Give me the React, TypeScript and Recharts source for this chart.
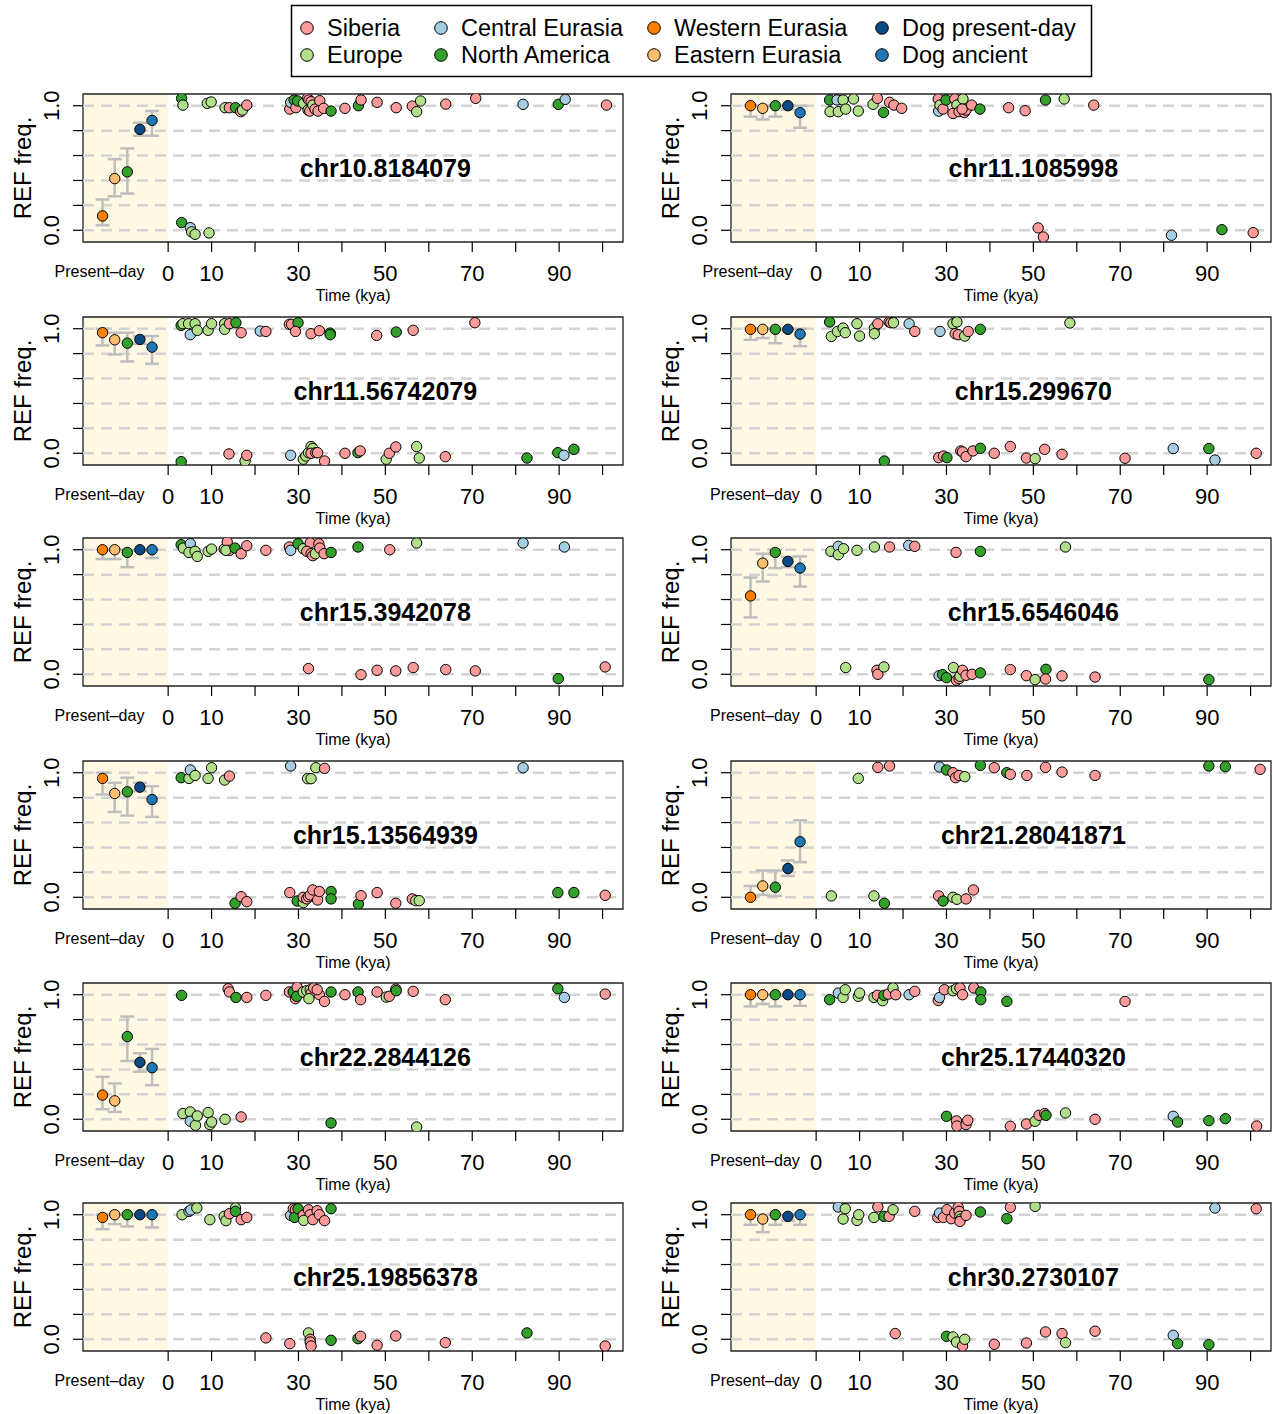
import React from "react";
import {
  ErrorBar,
  Label,
  ReferenceArea,
  ReferenceDot,
  ReferenceLine,
  Scatter,
  ScatterChart,
  XAxis,
  YAxis,
} from "recharts";

const FONT = '"Liberation Sans", Arial, Helvetica, sans-serif';

// colours (RColorBrewer "Paired"-like)
const COLOR: Record<string, string> = {
  s: "#FB9A99", // Siberia
  e: "#B2DF8A", // Europe
  c: "#A6CEE3", // Central Eurasia
  n: "#33A02C", // North America
};
const PD_COLORS = ["#FF7F00", "#FDBF6F", "#33A02C", "#0B4A85", "#1F78B4"];

// x positions of the five present-day groups (inside the shaded band)
const PD_X = [-15.1, -12.3, -9.4, -6.5, -3.7];

const X_MIN = -19.6;
const X_MAX = 104.7;
const Y_MIN = -0.094;
const Y_MAX = 1.094;
const X_TICKS = [0, 10, 20, 30, 40, 50, 60, 70, 80, 90, 100];
const X_LABELS = [0, 10, 30, 50, 70, 90];
const Y_TICKS = [0, 0.2, 0.4, 0.6, 0.8, 1];

type Pt = [string, number, number];
type Pd = [number, number, number]; // mean, low, high

// ── present-day means with intervals (W.Eurasia, E.Eurasia, N.America, Dog present-day, Dog ancient)
const pd_chr10_8184079: Pd[] = [[0.115, 0.04, 0.247], [0.415, 0.273, 0.571], [0.469, 0.295, 0.657], [0.81, 0.759, 0.863], [0.882, 0.759, 0.957]];
const pd_chr11_1085998: Pd[] = [[1.0, 0.912, 1.0], [0.979, 0.89, 1.0], [1.0, 0.912, 1.0], [1.0, 0.97, 1.0], [0.944, 0.823, 1.0]];
const pd_chr11_56742079: Pd[] = [[0.968, 0.866, 1.0], [0.911, 0.793, 0.968], [0.884, 0.737, 0.968], [0.914, 0.879, 0.941], [0.852, 0.718, 0.941]];
const pd_chr15_299670: Pd[] = [[0.995, 0.911, 1.0], [0.995, 0.925, 1.0], [0.995, 0.884, 1.0], [0.995, 0.99, 1.0], [0.957, 0.86, 1.0]];
const pd_chr15_3942078: Pd[] = [[1.0, 0.925, 1.0], [1.0, 0.925, 1.0], [0.978, 0.86, 1.0], [1.0, 0.99, 1.0], [1.0, 0.933, 1.0]];
const pd_chr15_6546046: Pd[] = [[0.629, 0.457, 0.777], [0.892, 0.745, 0.968], [0.978, 0.852, 1.0], [0.906, 0.86, 0.941], [0.852, 0.704, 0.946]];
const pd_chr15_13564939: Pd[] = [[0.954, 0.825, 1.0], [0.833, 0.685, 0.919], [0.847, 0.656, 0.96], [0.884, 0.852, 0.919], [0.785, 0.645, 0.892]];
const pd_chr21_28041871: Pd[] = [[0.0, 0.0, 0.091], [0.091, 0.019, 0.215], [0.081, 0.011, 0.215], [0.231, 0.172, 0.296], [0.446, 0.282, 0.618]];
const pd_chr22_2844126: Pd[] = [[0.194, 0.081, 0.341], [0.148, 0.059, 0.288], [0.664, 0.468, 0.825], [0.457, 0.382, 0.53], [0.414, 0.274, 0.565]];
const pd_chr25_17440320: Pd[] = [[1.0, 0.906, 1.0], [1.0, 0.925, 1.0], [1.0, 0.906, 1.0], [1.0, 0.99, 1.0], [1.0, 0.911, 1.0]];
const pd_chr25_19856378: Pd[] = [[0.978, 0.884, 1.0], [1.0, 0.925, 1.0], [1.0, 0.906, 1.0], [1.0, 0.99, 1.0], [1.0, 0.898, 1.0]];
const pd_chr30_2730107: Pd[] = [[1.0, 0.919, 1.0], [0.965, 0.86, 1.0], [1.0, 0.919, 1.0], [0.987, 0.95, 1.0], [1.0, 0.919, 1.0]];

// ── ancient samples: [group, age kya, REF freq (jittered)]
const anc_chr10_8184079: Pt[] = [
  ["n", 3.1, 1.059], ["e", 3.4, 1.005], ["e", 9.0, 1.019], ["e", 9.9, 1.03], ["e", 13.1, 0.984], ["s", 14.1, 0.984], ["n", 15.5, 0.984], ["s", 16.7, 0.952], ["e", 17.1, 0.965], ["s", 18.1, 1.005],
  ["s", 28.0, 0.973], ["c", 28.2, 1.027], ["n", 29.0, 1.046], ["s", 29.4, 0.984], ["n", 29.8, 1.038], ["e", 31.2, 1.019], ["s", 32.1, 1.059], ["s", 32.4, 1.046], ["s", 32.9, 1.032], ["e", 32.2, 0.965], ["s", 32.6, 0.957], ["e", 33.3, 1.005], ["s", 33.8, 0.973], ["s", 34.5, 0.957], ["s", 34.9, 1.04], ["s", 35.8, 0.979], ["n", 37.5, 0.957],
  ["s", 40.7, 0.979], ["n", 43.8, 1.0], ["s", 44.4, 1.046], ["s", 48.1, 1.027], ["s", 52.5, 0.984], ["s", 56.2, 0.997], ["e", 57.2, 0.952], ["e", 58.1, 1.038], ["s", 63.9, 1.013], ["s", 70.8, 1.059], ["c", 81.7, 1.011], ["n", 89.8, 1.011], ["c", 91.4, 1.051], ["s", 100.9, 1.005],
  ["n", 3.1, 0.062], ["c", 5.1, 0.021], ["e", 5.4, -0.013], ["e", 6.2, -0.032], ["e", 9.4, -0.021],
];
const anc_chr11_1085998: Pt[] = [
  ["n", 3.1, 1.046], ["c", 4.8, 1.046], ["e", 6.2, 1.046], ["e", 8.6, 1.054], ["e", 3.2, 0.952], ["e", 5.1, 0.952], ["e", 6.8, 0.973], ["e", 9.7, 0.957],
  ["e", 13.1, 1.011], ["s", 14.1, 1.059], ["n", 15.5, 0.946], ["s", 16.9, 1.027], ["s", 17.9, 1.005], ["s", 19.7, 0.979],
  ["s", 28.1, 1.054], ["c", 28.2, 0.957], ["e", 28.5, 1.005], ["s", 29.2, 0.973], ["n", 29.9, 1.046], ["s", 31.9, 1.054], ["e", 32.4, 1.005], ["e", 33.8, 1.054], ["s", 31.5, 0.938], ["s", 32.9, 0.952], ["s", 34.1, 0.946], ["s", 34.5, 0.965], ["s", 33.6, 0.973], ["s", 35.8, 1.005], ["n", 37.7, 0.973],
  ["s", 44.3, 0.984], ["s", 48.1, 0.96], ["n", 52.8, 1.046], ["e", 57.1, 1.054], ["s", 63.9, 1.005],
  ["s", 51.1, 0.019], ["s", 52.3, -0.054], ["c", 81.8, -0.04], ["n", 93.4, 0.005], ["s", 100.6, -0.019],
];
const anc_chr11_56742079: Pt[] = [
  ["n", 3.0, 1.027], ["e", 3.4, 1.04], ["e", 4.7, 1.04], ["c", 5.1, 0.952], ["e", 6.2, 1.04], ["e", 6.7, 0.987], ["e", 9.2, 0.987], ["e", 10.0, 1.04],
  ["e", 13.0, 1.04], ["e", 13.0, 0.995], ["s", 14.1, 1.04], ["n", 15.6, 1.048], ["s", 16.8, 0.968], ["c", 21.2, 0.981], ["s", 22.5, 0.978],
  ["s", 27.9, 1.035], ["s", 28.4, 1.035], ["n", 29.9, 1.048], ["s", 29.3, 0.978], ["s", 32.9, 0.96], ["s", 34.8, 0.984], ["n", 37.3, 0.965], ["n", 37.3, 0.952],
  ["s", 48.0, 0.946], ["n", 52.5, 0.973], ["s", 56.4, 0.987], ["s", 70.6, 1.048],
  ["n", 3.0, -0.067], ["s", 14.0, -0.005], ["e", 17.7, -0.062], ["s", 18.1, -0.016],
  ["c", 28.2, -0.016], ["e", 31.1, -0.048], ["e", 31.7, -0.022], ["e", 32.3, 0.005], ["e", 32.9, 0.054], ["e", 33.3, 0.038], ["s", 32.9, 0.0], ["s", 34.0, 0.005], ["s", 34.4, 0.005], ["s", 36.0, -0.062],
  ["s", 40.7, 0.0], ["n", 43.7, 0.005], ["s", 44.2, 0.019], ["e", 50.2, -0.048], ["s", 50.9, 0.0], ["s", 52.4, 0.051], ["e", 57.2, 0.054], ["e", 57.8, -0.038], ["s", 63.8, -0.027],
  ["n", 82.6, -0.038], ["n", 89.7, 0.005], ["c", 91.1, -0.016], ["n", 93.4, 0.032],
];
const anc_chr15_299670: Pt[] = [
  ["n", 3.1, 1.054], ["e", 3.5, 0.938], ["e", 4.9, 0.978], ["e", 6.2, 1.005], ["e", 6.7, 0.968], ["e", 9.4, 1.04], ["e", 10.0, 0.941],
  ["e", 13.4, 1.005], ["e", 13.4, 0.96], ["s", 14.2, 1.04], ["s", 16.8, 1.054], ["s", 17.2, 1.048], ["e", 17.8, 1.048], ["c", 21.4, 1.04], ["s", 22.7, 0.978],
  ["c", 28.5, 0.978], ["e", 31.5, 1.04], ["e", 32.4, 1.054], ["s", 32.0, 0.96], ["s", 32.7, 0.952], ["e", 34.2, 0.941], ["s", 35.0, 0.978], ["n", 37.8, 0.995], ["e", 58.4, 1.046],
  ["n", 15.7, -0.062], ["s", 28.2, -0.035], ["s", 29.3, -0.022], ["n", 30.1, -0.035], ["s", 33.3, 0.019], ["s", 33.7, 0.011], ["s", 34.5, -0.027], ["s", 36.1, 0.019], ["n", 37.8, 0.04],
  ["s", 41.0, 0.0], ["s", 44.7, 0.054], ["s", 48.4, -0.038], ["e", 50.4, -0.043], ["s", 52.6, 0.032], ["s", 56.6, -0.008], ["s", 71.1, -0.04], ["c", 82.2, 0.038], ["n", 90.4, 0.038], ["c", 91.8, -0.054], ["s", 101.3, 0.0],
];
const anc_chr15_3942078: Pt[] = [
  ["n", 3.0, 1.04], ["e", 3.5, 1.013], ["c", 5.1, 1.048], ["e", 4.8, 0.978], ["e", 6.2, 0.987], ["e", 6.7, 0.946], ["e", 9.2, 0.987], ["e", 10.0, 1.005],
  ["e", 12.9, 1.005], ["s", 13.6, 1.062], ["s", 14.1, 0.995], ["e", 13.3, 0.995], ["n", 15.4, 1.013], ["s", 16.8, 0.968], ["s", 18.1, 1.032], ["s", 22.5, 0.995],
  ["s", 27.9, 1.022], ["c", 28.2, 0.995], ["n", 29.9, 1.048], ["e", 31.1, 1.008], ["s", 32.7, 1.054], ["s", 34.7, 1.048], ["s", 31.9, 0.987], ["s", 32.9, 0.968], ["s", 33.3, 0.952], ["e", 33.9, 0.968], ["s", 34.9, 1.013], ["s", 35.9, 0.968], ["n", 37.5, 0.978],
  ["n", 43.7, 1.022], ["s", 51.0, 1.0], ["e", 57.2, 1.054], ["c", 81.7, 1.054], ["c", 91.2, 1.022],
  ["s", 32.3, 0.046], ["s", 44.4, -0.003], ["s", 48.1, 0.032], ["s", 52.4, 0.027], ["s", 56.4, 0.054], ["s", 63.9, 0.038], ["s", 70.7, 0.027], ["n", 89.8, -0.035], ["s", 100.6, 0.059],
];
const anc_chr15_6546046: Pt[] = [
  ["e", 3.4, 0.987], ["c", 5.1, 1.027], ["e", 5.1, 0.96], ["e", 6.3, 1.008], ["e", 9.4, 0.995], ["e", 13.4, 1.022], ["s", 16.9, 1.022], ["c", 21.3, 1.035], ["s", 22.7, 1.027], ["s", 32.2, 0.978], ["n", 37.8, 0.987], ["e", 57.4, 1.022],
  ["e", 6.8, 0.054], ["s", 14.0, 0.032], ["s", 14.2, 0.0], ["e", 15.6, 0.059],
  ["c", 28.3, -0.011], ["n", 29.1, -0.003], ["n", 30.0, -0.027], ["e", 31.6, 0.054], ["s", 32.3, -0.048], ["s", 32.9, -0.035], ["e", 33.1, -0.016], ["s", 33.7, 0.032], ["s", 34.5, -0.008], ["s", 35.9, 0.0], ["n", 37.8, 0.011],
  ["s", 44.7, 0.038], ["s", 48.4, -0.011], ["e", 50.4, -0.043], ["n", 52.9, 0.04], ["s", 52.8, -0.038], ["s", 56.6, -0.013], ["s", 64.2, -0.022], ["n", 90.4, -0.043],
];
const anc_chr15_13564939: Pt[] = [
  ["n", 3.0, 0.96], ["e", 4.8, 0.954], ["c", 5.1, 1.022], ["e", 6.2, 0.978], ["e", 9.2, 0.954], ["e", 10.0, 1.04], ["e", 13.0, 0.941], ["s", 14.1, 0.973],
  ["c", 28.2, 1.054], ["e", 32.1, 0.952], ["e", 32.9, 0.952], ["e", 34.0, 1.04], ["s", 36.0, 1.035], ["c", 81.7, 1.04],
  ["n", 15.4, -0.048], ["s", 16.8, 0.005], ["s", 18.1, -0.035],
  ["s", 28.0, 0.038], ["n", 29.7, -0.03], ["e", 31.1, -0.043], ["s", 31.1, 0.0], ["s", 31.9, -0.013], ["s", 32.3, 0.005], ["s", 32.7, 0.019], ["s", 33.3, 0.059], ["s", 34.4, -0.022], ["s", 34.8, 0.046], ["n", 37.5, 0.046], ["n", 37.5, -0.013],
  ["n", 43.8, -0.054], ["s", 44.4, 0.013], ["s", 48.1, 0.038], ["s", 52.4, -0.048], ["s", 56.2, -0.013], ["e", 57.0, -0.027], ["e", 57.8, -0.027],
  ["n", 89.7, 0.038], ["n", 93.4, 0.038], ["s", 100.6, 0.016],
];
const anc_chr21_28041871: Pt[] = [
  ["e", 9.7, 0.954], ["s", 14.2, 1.043], ["s", 16.9, 1.054],
  ["c", 28.4, 1.046], ["n", 30.0, 1.022], ["s", 31.5, 1.0], ["s", 32.1, 0.96], ["s", 32.9, 0.978], ["e", 34.2, 0.968], ["n", 37.8, 1.059], ["s", 41.0, 1.04], ["n", 43.9, 1.0], ["s", 44.7, 0.987], ["s", 48.5, 0.978], ["s", 52.8, 1.043], ["s", 56.6, 1.005], ["s", 64.2, 0.978],
  ["n", 90.4, 1.054], ["n", 94.2, 1.048], ["s", 102.2, 1.027],
  ["e", 3.5, 0.011], ["e", 13.3, 0.011], ["n", 15.7, -0.048],
  ["s", 28.2, 0.011], ["n", 29.2, -0.03], ["e", 31.5, 0.0], ["e", 32.4, -0.016], ["s", 34.5, -0.013], ["s", 36.2, 0.059],
];
const anc_chr22_2844126: Pt[] = [
  ["n", 3.1, 0.995], ["s", 13.8, 1.048], ["s", 14.1, 1.022], ["n", 15.6, 0.978], ["s", 18.1, 0.978], ["s", 22.5, 0.995],
  ["s", 27.9, 1.022], ["n", 28.8, 1.022], ["s", 29.7, 1.059], ["s", 29.3, 0.968], ["n", 29.6, 0.987], ["e", 31.1, 1.022], ["e", 31.9, 1.032], ["e", 32.7, 1.04], ["s", 32.9, 1.013], ["s", 33.5, 1.054], ["e", 32.4, 0.968], ["s", 34.8, 1.0], ["s", 34.3, 1.04], ["s", 36.0, 0.946], ["n", 37.5, 1.022],
  ["s", 40.7, 1.0], ["n", 43.7, 1.022], ["s", 44.3, 0.96], ["s", 48.1, 1.022], ["e", 50.2, 0.981], ["s", 50.9, 0.987], ["s", 52.4, 1.045], ["n", 52.5, 1.032], ["s", 56.4, 1.027], ["s", 63.8, 0.96],
  ["n", 89.7, 1.048], ["c", 91.2, 0.978], ["s", 100.6, 1.005],
  ["e", 3.4, 0.046], ["e", 5.1, 0.059], ["c", 5.1, -0.016], ["e", 6.3, -0.048], ["e", 6.7, 0.027], ["e", 9.2, 0.054], ["e", 9.6, -0.043], ["e", 10.0, -0.022], ["e", 13.1, 0.0], ["s", 16.8, 0.019],
  ["n", 37.5, -0.03], ["e", 57.2, -0.062],
];
const anc_chr25_17440320: Pt[] = [
  ["n", 3.1, 0.96], ["c", 5.1, 1.013], ["e", 6.2, 0.978], ["e", 6.7, 1.04], ["e", 9.7, 0.987], ["e", 10.0, 1.013],
  ["e", 13.3, 0.978], ["s", 14.1, 0.995], ["e", 15.3, 0.952], ["n", 15.6, 0.995], ["s", 16.6, 1.005], ["e", 17.7, 1.054], ["s", 18.3, 1.0], ["c", 21.4, 1.0], ["s", 22.7, 1.027],
  ["s", 28.1, 0.954], ["c", 28.4, 0.978], ["s", 29.5, 1.04], ["e", 31.5, 1.032], ["e", 32.3, 1.048], ["s", 33.1, 1.054], ["s", 33.7, 1.0], ["s", 36.3, 1.054], ["n", 37.9, 1.022], ["n", 37.9, 0.96], ["n", 43.9, 0.946], ["s", 71.1, 0.946],
  ["n", 30.0, 0.024], ["s", 32.3, -0.013], ["s", 32.4, -0.054], ["s", 34.5, -0.043], ["s", 34.9, -0.008],
  ["s", 44.7, -0.056], ["s", 48.4, -0.038], ["e", 50.4, -0.016], ["s", 51.3, 0.032], ["s", 52.6, 0.046], ["n", 52.9, 0.032], ["e", 57.4, 0.051], ["s", 64.2, 0.0],
  ["c", 82.2, 0.024], ["n", 83.2, -0.022], ["n", 90.4, -0.011], ["n", 94.2, 0.005], ["s", 101.4, -0.054],
];
const anc_chr25_19856378: Pt[] = [
  ["e", 3.2, 1.0], ["c", 4.8, 1.027], ["c", 5.2, 1.038], ["e", 6.6, 1.054], ["e", 9.6, 0.96],
  ["e", 12.9, 0.987], ["e", 13.3, 0.952], ["s", 14.1, 1.008], ["e", 15.5, 1.054], ["n", 15.5, 1.027], ["s", 16.8, 0.96], ["s", 18.1, 0.978],
  ["c", 28.2, 0.995], ["s", 28.8, 1.048], ["s", 29.3, 1.04], ["n", 29.1, 0.978], ["n", 29.9, 1.048], ["s", 31.1, 0.995], ["s", 32.3, 1.04], ["s", 32.7, 1.0], ["e", 31.2, 0.954], ["s", 33.3, 0.96], ["s", 34.3, 1.032], ["s", 34.8, 1.0], ["s", 36.0, 0.952], ["n", 37.5, 1.048],
  ["s", 22.5, 0.011], ["s", 28.0, -0.035], ["e", 32.3, 0.051], ["s", 32.7, 0.0], ["s", 32.7, -0.022], ["s", 32.9, -0.054], ["n", 37.5, -0.008], ["n", 43.7, 0.005], ["s", 44.3, 0.024], ["s", 48.1, -0.048], ["s", 52.4, 0.027], ["s", 63.8, -0.027], ["n", 82.6, 0.051], ["s", 100.6, -0.054],
];
const anc_chr30_2730107: Pt[] = [
  ["c", 5.1, 1.062], ["e", 6.7, 1.048], ["e", 6.2, 0.965], ["e", 9.4, 0.954], ["e", 9.8, 1.0],
  ["s", 14.2, 1.062], ["e", 13.3, 0.978], ["n", 15.6, 0.987], ["s", 16.8, 0.987], ["e", 17.7, 1.04], ["s", 22.7, 1.027],
  ["s", 28.0, 0.978], ["c", 28.4, 1.013], ["s", 29.3, 0.978], ["s", 30.1, 1.04], ["s", 31.1, 0.968], ["s", 31.9, 1.013], ["s", 32.7, 1.059], ["s", 32.9, 1.027], ["e", 33.1, 0.987], ["e", 33.3, 0.965], ["s", 33.1, 0.946], ["s", 34.5, 0.995], ["n", 37.8, 1.022],
  ["s", 44.7, 1.059], ["n", 43.9, 0.968], ["e", 50.4, 1.067], ["c", 91.8, 1.054], ["s", 101.3, 1.048],
  ["s", 18.2, 0.046], ["n", 30.0, 0.024], ["e", 31.5, 0.019], ["e", 32.3, -0.022], ["s", 33.7, -0.054], ["e", 34.2, 0.0],
  ["s", 41.0, -0.04], ["s", 48.4, -0.03], ["s", 52.8, 0.059], ["s", 56.6, 0.046], ["e", 57.4, -0.027], ["s", 64.2, 0.065],
  ["c", 82.2, 0.032], ["n", 83.2, -0.035], ["n", 90.4, -0.043],
];

const PANELS = [
  { name: "chr10.8184079", present: pd_chr10_8184079, ancient: anc_chr10_8184079, pdLabel: -15.8 },
  { name: "chr11.1085998", present: pd_chr11_1085998, ancient: anc_chr11_1085998, pdLabel: -15.8 },
  { name: "chr11.56742079", present: pd_chr11_56742079, ancient: anc_chr11_56742079, pdLabel: -15.8 },
  { name: "chr15.299670", present: pd_chr15_299670, ancient: anc_chr15_299670, pdLabel: -14.1 },
  { name: "chr15.3942078", present: pd_chr15_3942078, ancient: anc_chr15_3942078, pdLabel: -15.8 },
  { name: "chr15.6546046", present: pd_chr15_6546046, ancient: anc_chr15_6546046, pdLabel: -14.1 },
  { name: "chr15.13564939", present: pd_chr15_13564939, ancient: anc_chr15_13564939, pdLabel: -15.8 },
  { name: "chr21.28041871", present: pd_chr21_28041871, ancient: anc_chr21_28041871, pdLabel: -14.1 },
  { name: "chr22.2844126", present: pd_chr22_2844126, ancient: anc_chr22_2844126, pdLabel: -15.8 },
  { name: "chr25.17440320", present: pd_chr25_17440320, ancient: anc_chr25_17440320, pdLabel: -14.1 },
  { name: "chr25.19856378", present: pd_chr25_19856378, ancient: anc_chr25_19856378, pdLabel: -15.8 },
  { name: "chr30.2730107", present: pd_chr30_2730107, ancient: anc_chr30_2730107, pdLabel: -14.1 },
];

const ROW_TOPS = [94, 317, 538, 761, 983, 1203]; // plot-area tops
const COL_LEFTS = [0, 648];

const LEGEND = [
  { label: "Siberia", color: COLOR.s, col: 0, row: 0 },
  { label: "Europe", color: COLOR.e, col: 0, row: 1 },
  { label: "Central Eurasia", color: COLOR.c, col: 1, row: 0 },
  { label: "North America", color: COLOR.n, col: 1, row: 1 },
  { label: "Western Eurasia", color: PD_COLORS[0], col: 2, row: 0 },
  { label: "Eastern Eurasia", color: PD_COLORS[1], col: 2, row: 1 },
  { label: "Dog present-day", color: PD_COLORS[3], col: 3, row: 0 },
  { label: "Dog ancient", color: PD_COLORS[4], col: 3, row: 1 },
];
const LEG_COL_X = [307, 441, 654, 882];
const LEG_ROW_Y = [28, 55];

function Dot(props: any) {
  const { cx, cy, payload } = props;
  if (cx == null || cy == null) return null;
  return <circle cx={cx} cy={cy} r={5.2} fill={payload.fill} stroke="#000" strokeWidth={1} />;
}

function makeXTick(pdLabel: number) {
  return function XTick(props: any) {
    const { x, y, payload } = props;
    const v = payload.value;
    if (v === pdLabel) {
      return (
        <text x={x} y={y + 29} textAnchor="middle" dominantBaseline="central" fontSize={16} fontFamily={FONT} fill="#000">
          Present–day
        </text>
      );
    }
    return (
      <g>
        <line x1={x} x2={x} y1={y} y2={y + 10} stroke="#000" strokeWidth={1.2} />
        {X_LABELS.includes(v) && (
          <text x={x} y={y + 31} textAnchor="middle" dominantBaseline="central" fontSize={22} fontFamily={FONT} fill="#000">
            {v}
          </text>
        )}
      </g>
    );
  };
}

function YTick(props: any) {
  const { x, y, payload } = props;
  const v = payload.value;
  return (
    <g>
      <line x1={x - 10} x2={x} y1={y} y2={y} stroke="#000" strokeWidth={1.2} />
      {(v === 0 || v === 1) && (
        <text
          transform={`translate(${x - 32},${y}) rotate(-90)`}
          textAnchor="middle"
          dominantBaseline="central"
          fontSize={22}
          fontFamily={FONT}
          fill="#000"
        >
          {v.toFixed(1)}
        </text>
      )}
    </g>
  );
}

function Panel({ panel }: { panel: (typeof PANELS)[number] }) {
  const ancient = panel.ancient.map(([g, x, y]) => ({ x, y, fill: COLOR[g] }));
  const present = panel.present.map(([m, lo, hi], i) => ({
    x: PD_X[i],
    y: m,
    err: [m - lo, hi - m],
    fill: PD_COLORS[i],
  }));
  return (
    <ScatterChart width={625} height={220} margin={{ top: 10, right: 2, bottom: 0, left: 0 }}>
      <XAxis
        type="number"
        dataKey="x"
        domain={[X_MIN, X_MAX]}
        allowDataOverflow
        ticks={[panel.pdLabel, ...X_TICKS]}
        interval={0}
        tick={makeXTick(panel.pdLabel)}
        tickLine={false}
        axisLine={false}
        tickSize={0}
        tickMargin={0}
        height={62}
      >
        <Label
          content={(p: any) => {
            const vb = p.viewBox;
            return (
              <text x={vb.x + vb.width / 2} y={vb.y + 53} textAnchor="middle" dominantBaseline="central" fontSize={16} fontFamily={FONT} fill="#000">
                Time (kya)
              </text>
            );
          }}
        />
      </XAxis>
      <YAxis
        type="number"
        dataKey="y"
        domain={[Y_MIN, Y_MAX]}
        allowDataOverflow
        ticks={Y_TICKS}
        interval={0}
        tick={YTick}
        tickLine={false}
        axisLine={false}
        tickSize={0}
        tickMargin={0}
        width={83}
      >
        <Label
          content={(p: any) => {
            const vb = p.viewBox;
            const cy = vb.y + vb.height / 2;
            return (
              <text transform={`translate(22,${cy}) rotate(-90)`} textAnchor="middle" dominantBaseline="central" fontSize={24} fontFamily={FONT} fill="#000">
                REF freq.
              </text>
            );
          }}
        />
      </YAxis>
      <ReferenceArea x1={X_MIN} x2={0} fill="#FFF8E3" fillOpacity={1} stroke="none" />
      {Y_TICKS.map((t) => (
        <ReferenceLine key={t} y={t} stroke="#D3D3D3" strokeWidth={2.5} strokeDasharray="11 7" />
      ))}
      <Scatter data={ancient} shape={Dot} isAnimationActive={false} />
      <Scatter data={present} shape={Dot} isAnimationActive={false}>
        <ErrorBar dataKey="err" direction="y" width={7} stroke="#BEBEBE" strokeWidth={2.5} isAnimationActive={false} />
      </Scatter>
      <ReferenceDot
        x={50}
        y={0.5}
        r={0}
        ifOverflow="visible"
        shape={(p: any) => (
          <text x={p.cx} y={p.cy} textAnchor="middle" dominantBaseline="central" fontSize={25} fontWeight="bold" fontFamily={FONT} fill="#000">
            {panel.name}
          </text>
        )}
      />
      <ReferenceArea x1={X_MIN} x2={X_MAX} y1={Y_MIN} y2={Y_MAX} fill="none" stroke="#222" strokeWidth={1.3} />
    </ScatterChart>
  );
}

export default function App() {
  return (
    <div
      style={{
        position: "absolute",
        left: 0,
        top: 0,
        width: 1273,
        height: 1414,
        background: "#fff",
        fontFamily: FONT,
      }}
    >
      <svg width={1273} height={82} style={{ position: "absolute", left: 0, top: 0 }}>
        <rect x={291.5} y={5.5} width={800} height={71} fill="#fff" stroke="#000" strokeWidth={1.5} />
        {LEGEND.map((l) => (
          <g key={l.label}>
            <circle cx={LEG_COL_X[l.col]} cy={LEG_ROW_Y[l.row]} r={6.3} fill={l.color} stroke="#000" strokeWidth={1} />
            <text
              x={LEG_COL_X[l.col] + 20}
              y={LEG_ROW_Y[l.row]}
              dominantBaseline="central"
              fontSize={23.5}
              fontFamily={FONT}
              fill="#000"
            >
              {l.label}
            </text>
          </g>
        ))}
      </svg>
      {PANELS.map((p, i) => (
        <div
          key={p.name}
          style={{
            position: "absolute",
            left: COL_LEFTS[i % 2],
            top: ROW_TOPS[Math.floor(i / 2)] - 10,
          }}
        >
          <Panel panel={p} />
        </div>
      ))}
    </div>
  );
}
